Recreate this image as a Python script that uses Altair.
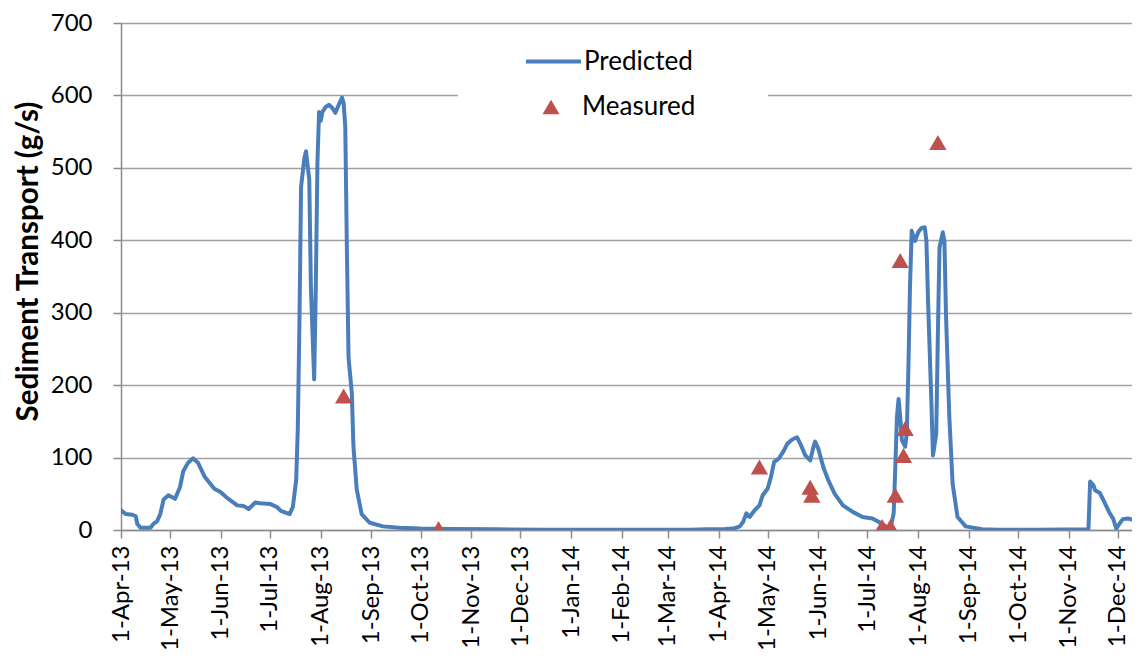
import altair as alt
import pandas as pd

# ---- Predicted series ----
pred_dates = [
    "2013-04-01", "2013-04-04", "2013-04-08", "2013-04-10", "2013-04-11", "2013-04-13",
    "2013-04-19", "2013-04-21", "2013-04-23", "2013-04-25", "2013-04-27", "2013-04-30",
    "2013-05-04", "2013-05-07", "2013-05-09", "2013-05-12", "2013-05-15", "2013-05-18",
    "2013-05-22", "2013-05-28", "2013-06-01", "2013-06-05", "2013-06-11", "2013-06-15",
    "2013-06-18", "2013-06-22", "2013-06-25", "2013-07-01", "2013-07-05", "2013-07-08",
    "2013-07-13", "2013-07-15", "2013-07-17", "2013-07-18", "2013-07-19", "2013-07-20",
    "2013-07-22", "2013-07-23", "2013-07-25", "2013-07-26", "2013-07-28", "2013-07-29",
    "2013-07-30", "2013-07-31", "2013-08-01", "2013-08-02", "2013-08-04", "2013-08-06",
    "2013-08-08", "2013-08-10", "2013-08-12", "2013-08-14", "2013-08-15", "2013-08-16",
    "2013-08-17", "2013-08-18", "2013-08-20", "2013-08-21", "2013-08-23", "2013-08-26",
    "2013-08-31", "2013-09-08", "2013-09-18", "2013-10-01", "2013-10-20", "2013-11-15",
    "2013-12-15", "2014-02-01", "2014-03-15", "2014-03-25", "2014-04-05", "2014-04-10",
    "2014-04-14", "2014-04-16", "2014-04-18", "2014-04-20", "2014-04-23", "2014-04-26",
    "2014-04-28", "2014-05-01", "2014-05-03", "2014-05-05", "2014-05-08", "2014-05-11",
    "2014-05-13", "2014-05-16", "2014-05-19", "2014-05-21", "2014-05-24", "2014-05-27",
    "2014-05-29", "2014-05-30", "2014-06-01", "2014-06-04", "2014-06-07", "2014-06-11",
    "2014-06-16", "2014-06-22", "2014-06-28", "2014-07-04", "2014-07-08", "2014-07-12",
    "2014-07-15", "2014-07-17", "2014-07-18", "2014-07-19", "2014-07-20", "2014-07-21",
    "2014-07-22", "2014-07-24", "2014-07-25", "2014-07-26", "2014-07-27", "2014-07-28",
    "2014-07-30", "2014-08-01", "2014-08-03", "2014-08-05", "2014-08-06", "2014-08-07",
    "2014-08-09", "2014-08-10", "2014-08-12", "2014-08-13", "2014-08-14", "2014-08-16",
    "2014-08-17", "2014-08-18", "2014-08-20", "2014-08-22", "2014-08-25", "2014-08-30",
    "2014-09-09", "2014-09-19", "2014-10-15", "2014-11-12", "2014-11-13", "2014-11-14",
    "2014-11-16", "2014-11-17", "2014-11-20", "2014-11-23", "2014-11-26", "2014-11-28",
    "2014-11-30", "2014-12-02", "2014-12-04", "2014-12-07", "2014-12-10", "2014-12-12",
    "2014-12-14",
]
pred_values = [
    27, 22, 21, 19, 8, 3,
    3, 9, 12, 22, 42, 48,
    43, 59, 81, 93, 99, 93,
    74, 57, 52, 44, 34, 33,
    29, 38, 37, 36, 32, 26,
    22, 32, 69, 140, 287, 474,
    513, 523, 484, 336, 208, 336,
    508, 577, 565, 577, 584, 587,
    583, 576, 587, 597, 589, 557,
    385, 238, 189, 115, 56, 22,
    10, 5, 3, 2, 1.5, 1,
    0.5, 0.3, 0.5, 1, 1.5, 2,
    5, 11, 23, 18, 27, 34,
    48, 57, 73, 94, 99, 110,
    119, 125, 128, 119, 103, 96,
    115, 122, 112, 87, 69, 50,
    34, 25, 18, 16, 11, 5,
    2, 23, 87, 156, 181, 156,
    124, 115, 133, 225, 339, 413,
    399, 411, 417, 418, 399, 316,
    179, 103, 133, 271, 390, 411,
    399, 294, 156, 64, 18, 5,
    1, 0.5, 0.5, 1, 2, 67,
    62, 55, 51, 37, 23, 16,
    2, 9, 15, 16, 14, 12,
    10,
]

# ---- Measured points ----
meas_dates = [
    "2013-08-15", "2013-10-12", "2014-04-26", "2014-05-27", "2014-05-28",
    "2014-07-10", "2014-07-15", "2014-07-18", "2014-07-21", "2014-07-23",
    "2014-07-24", "2014-08-13",
]
meas_values = [185, 2, 87, 59, 48, 5, 5, 48, 372, 103, 140, 535]

# ---- Axis ticks ----
tick_months = [
    "2013-04-01", "2013-05-01", "2013-06-01", "2013-07-01", "2013-08-01",
    "2013-09-01", "2013-10-01", "2013-11-01", "2013-12-01", "2014-01-01",
    "2014-02-01", "2014-03-01", "2014-04-01", "2014-05-01", "2014-06-01",
    "2014-07-01", "2014-08-01", "2014-09-01", "2014-10-01", "2014-11-01",
    "2014-12-01",
]
y_ticks = [0, 100, 200, 300, 400, 500, 600, 700]

def dt(s, **kw):
    t = pd.Timestamp(s)
    return alt.DateTime(year=t.year, month=t.month, date=t.day, **kw)

pred = pd.DataFrame({"date": pd.to_datetime(pred_dates), "value": pred_values,
                     "series": "Predicted"})
meas = pd.DataFrame({"date": pd.to_datetime(meas_dates), "value": meas_values,
                     "series": "Measured"})

FONT = "Lato"
BLUE = "#4a7ebb"
RED = "#c0504d"
GRAY = "#8c8c8c"
NBSP = "\u00a0"
ZW = "\u200b"
# legend triangle drawn off-centre inside a wide symbol column (widens the legend box)
LEGEND_TRIANGLE = "M0.74,-0.147L0.91,0.147L0.57,0.147Z"

x_enc = alt.X(
    "date:T",
    scale=alt.Scale(domain=[dt("2013-04-01"), dt("2014-12-09", hours=14)], nice=False),
    axis=alt.Axis(
        values=[dt(s) for s in tick_months], format="%-d-%b-%y", labelAngle=-90,
        title=None, grid=False, tickSize=8, tickColor=GRAY, tickWidth=1.5,
        domainColor=GRAY, domainWidth=1.5, labelPadding=7, labelFontSize=24,
        labelFont=FONT, labelColor="black", labelOverlap=False, labelFlush=False,
    ),
)
y_enc = alt.Y(
    "value:Q",
    scale=alt.Scale(domain=[0, 700], nice=False),
    axis=alt.Axis(
        values=y_ticks, title="Sediment Transport (g/s)", titleFontSize=29.5,
        titleFont=FONT, titleFontWeight="bold", titleColor="black", titlePadding=7,
        titleY=238,
        tickSize=8, tickColor=GRAY, tickWidth=1.5, domainColor=GRAY, domainWidth=1.5,
        grid=True, gridColor="#a0a0a0", gridWidth=1.5, labelPadding=21,
        labelFontSize=24, labelFont=FONT, labelColor="black",
    ),
)

line = alt.Chart(pred).mark_line(strokeWidth=4, strokeJoin="round", strokeCap="round",
                                 clip=True).encode(
    x=x_enc,
    y=y_enc,
    stroke=alt.Stroke(
        "series:N",
        scale=alt.Scale(domain=["Predicted"], range=[BLUE]),
        legend=alt.Legend(
            title=None, orient="none", legendX=397, legendY=3,
            symbolType="stroke", symbolSize=3025, symbolStrokeWidth=4,
            labelFontSize=26, labelFont=FONT, labelColor="black", labelOffset=1,
            fillColor="white", padding=6, labelLimit=400,
        ),
    ),
)

points = alt.Chart(meas).mark_point(shape="triangle-up", filled=True, size=300,
                                    opacity=1, clip=True).encode(
    x="date:T",
    y="value:Q",
    fill=alt.Fill(
        "series:N",
        scale=alt.Scale(domain=["Measured"], range=[RED]),
        legend=alt.Legend(
            title=None, orient="none", legendX=337, legendY=63,
            symbolType=LEGEND_TRIANGLE, symbolSize=10000, symbolFillColor=RED,
            symbolStrokeWidth=0, clipHeight=30,
            labelFontSize=26, labelFont=FONT, labelColor="black", labelOffset=18,
            labelExpr="datum.label + '" + NBSP * 10 + ZW + "'", labelLimit=400,
            fillColor="white", padding=6,
        ),
    ),
)

chart = alt.layer(line, points).resolve_legend(stroke="independent", fill="independent").properties(
    width=1011,
    height=507,
    autosize=alt.AutoSizeParams(type="none"),
    padding={"left": 113, "top": 15, "right": 0, "bottom": 126},
    background="white",
).configure_view(stroke=None).configure(font=FONT)

chart.save("out.html", embed_options={"renderer": "svg", "actions": False})
